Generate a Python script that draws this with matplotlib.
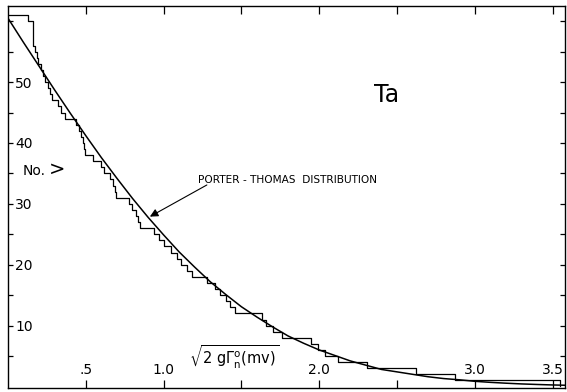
import matplotlib
matplotlib.use('Agg')
import matplotlib.pyplot as plt

# sqrt(2 g Gamma_n^0) values (mv) at which the level count drops by one
level_values = [0.13, 0.16, 0.16, 0.16, 0.16, 0.175, 0.185, 0.195, 0.21, 0.225,
                0.24, 0.26, 0.27, 0.28, 0.32, 0.34, 0.365, 0.44, 0.455, 0.47,
                0.48, 0.49, 0.495, 0.545, 0.60, 0.62, 0.655, 0.675, 0.685, 0.695,
                0.78, 0.80, 0.82, 0.835, 0.85, 0.94, 0.97, 1.00, 1.045, 1.085,
                1.11, 1.15, 1.18, 1.28, 1.33, 1.36, 1.40, 1.43, 1.46, 1.63,
                1.66, 1.70, 1.76, 1.95, 1.99, 2.04, 2.12, 2.31, 2.62, 2.87, 3.55]

# Porter-Thomas curve
pt_x = [0.0, 0.1, 0.2, 0.3, 0.4, 0.5, 0.6, 0.7, 0.8, 0.9, 1.0, 1.1, 1.2,
        1.3, 1.4, 1.5, 1.6, 1.7, 1.8, 1.9, 2.0, 2.1, 2.2, 2.3, 2.4, 2.5,
        2.6, 2.7, 2.8, 2.9, 3.0, 3.1, 3.2, 3.3, 3.4, 3.5, 3.6]
pt_y = [60.5, 56.5, 52.6, 48.7, 44.9, 41.2, 37.6, 34.2, 30.9, 27.8, 24.9,
        22.1, 19.6, 17.2, 15.1, 13.1, 11.4, 9.8, 8.3, 7.1, 6.0, 5.1, 4.2,
        3.5, 2.8, 2.4, 2.0, 1.6, 1.3, 1.1, 0.85, 0.68, 0.54, 0.42, 0.33,
        0.25, 0.19]

x_ticks = [0.5, 1.0, 1.5, 2.0, 2.5, 3.0, 3.5]
x_ticklabels = ['.5', '1.0', '', '2.0', '', '3.0', '3.5']
y_ticks = [5, 10, 15, 20, 25, 30, 35, 40, 45, 50, 55, 60]
y_ticklabels = ['', '10', '', '20', '', '30', '', '40', '', '50', '', '']

fig = plt.figure(figsize=(5.67, 3.92), dpi=100)
ax = fig.add_axes([0.0141, 0.0102, 0.9824, 0.9745])

# staircase: count of levels above x
n = len(level_values)
step_x = [0.0] + level_values
step_y = [n - i for i in range(n + 1)]
ax.step(step_x, step_y, where='post', color='black', lw=0.9)
ax.plot(pt_x, pt_y, color='black', lw=1.1)

ax.set_xlim(0, 3.58)
ax.set_ylim(-0.25, 62.5)

for s in ax.spines.values():
    s.set_linewidth(1.0)

ax.set_xticks(x_ticks)
ax.set_xticklabels(x_ticklabels)
ax.set_yticks(y_ticks)
ax.set_yticklabels(y_ticklabels)
ax.tick_params(axis='x', direction='in', top=True, length=6, width=0.9,
               labelsize=10, pad=-8)
ax.tick_params(axis='y', direction='in', right=True, length=3.6, width=0.9,
               labelsize=10, pad=-5)
for lbl in ax.get_xticklabels():
    lbl.set_verticalalignment('bottom')
for lbl in ax.get_yticklabels():
    lbl.set_horizontalalignment('left')

# annotations
ax.text(2.35, 47.9, 'Ta', fontsize=17, va='center', ha='left')
ax.text(0.095, 35.4, 'No.', fontsize=10, va='center', ha='left')
ax.text(0.265, 35.6, '>', fontsize=14, va='center', ha='left')
ax.text(1.45, 4.85, r'$\sqrt{2\ \mathrm{g}\Gamma_\mathrm{n}^\mathrm{o}(\mathrm{mv})}$',
        fontsize=10.5, va='center', ha='center')
ax.text(1.22, 33.9, 'PORTER - THOMAS  DISTRIBUTION', fontsize=7.6, va='center', ha='left')
ax.annotate('', xy=(0.912, 27.9), xytext=(1.278, 33.1),
            arrowprops=dict(arrowstyle='-|>', color='black', lw=0.8,
                            mutation_scale=12, shrinkA=0, shrinkB=0))

plt.savefig('out.png', dpi=100)
